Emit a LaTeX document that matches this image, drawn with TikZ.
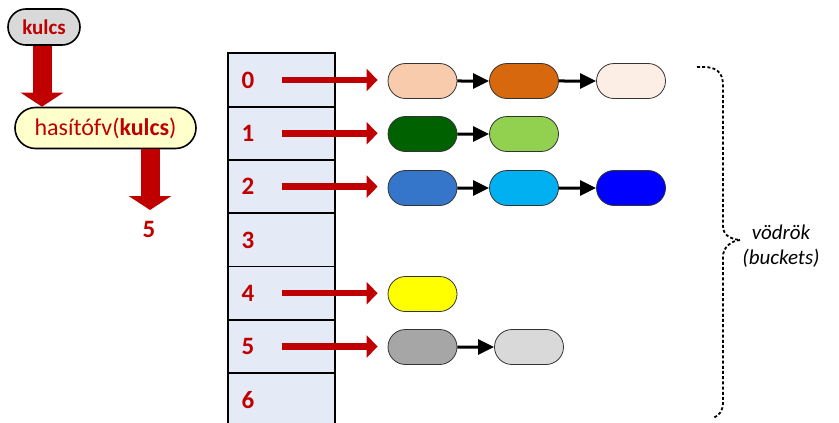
\documentclass[tikz,border=0pt]{standalone}
\usepackage{fontspec}
\setmainfont{Carlito}
\usetikzlibrary{arrows.meta,shapes.misc}
\definecolor{dred}{HTML}{C00000}
\definecolor{cellblue}{HTML}{E4EBF6}
\definecolor{pillgray}{HTML}{D9D9D9}
\definecolor{pillyellow}{HTML}{FFFFCC}
\definecolor{cA}{HTML}{F8CBAD}
\definecolor{cB}{HTML}{D8680E}
\definecolor{cC}{HTML}{FCEEE4}
\definecolor{cD}{HTML}{006100}
\definecolor{cE}{HTML}{92D050}
\definecolor{cF}{HTML}{3576CA}
\definecolor{cG}{HTML}{00B0F0}
\definecolor{cH}{HTML}{0000FF}
\definecolor{cI}{HTML}{FFFF00}
\definecolor{cJ}{HTML}{A6A6A6}
\definecolor{cK}{HTML}{D9D9D9}
\tikzset{
  cell/.style={draw=black, line width=1.8pt, fill=cellblue, minimum width=107pt, minimum height=53.3pt, inner sep=0pt},
  digit/.style={text=dred, font=\fontsize{25}{27}\selectfont\bfseries, inner sep=0pt},
  bucket/.style={rounded rectangle, draw=black!80, line width=0.8pt, minimum width=69pt, minimum height=35pt, inner sep=0pt},
  redarr/.style={draw=dred, line width=6.5pt, -{Triangle[length=11pt,width=22pt]}, shorten >=10pt},
  blkarr/.style={draw=black, line width=3pt, -{Triangle[length=16pt,width=15pt]}},
  bigarr/.style={draw=dred, line width=19pt, -{Triangle[length=14pt,width=42pt]}},
  pill/.style={rounded rectangle, draw=black, line width=1.6pt, inner sep=0pt, text=dred},
  brace/.style={draw=black, line width=1.8pt, dash pattern=on 3pt off 2.2pt},
  bucktxt/.style={font=\fontsize{21}{23}\selectfont\itshape, inner sep=0pt},
}
\begin{document}
\begin{tikzpicture}[x=1pt,y=-1pt]
\useasboundingbox (0,0) rectangle (839,423);
% left part
\node[pill, fill=pillgray, minimum width=72pt, minimum height=36pt, font=\fontsize{21}{23}\selectfont\bfseries] (key) at (44,27) {kulcs};
\node[pill, fill=pillyellow, minimum width=181pt, minimum height=41pt, font=\fontsize{24}{26}\selectfont] (hash) at (105.5,128) {hasítófv(\textbf{kulcs})};
\node[digit] (five) at (149,229) {5};
\coordinate (fivetop) at (150,210);
\draw[bigarr] (key.south -| 42,0) -- (hash.north -| 42,0);
\draw[bigarr] (hash.south -| 150,0) -- (fivetop);
% table
\foreach \i in {0,...,6} {
  \node[cell] (r\i) at (281.5,{80+53.3*\i}) {};
  \node[digit] (d\i) at (248,{80+53.3*\i}) {\i};
  \coordinate (a\i) at (282,{80+53.3*\i});
}
% buckets
\node[bucket, fill=cA] (b00) at (422.5,81) {};
\node[bucket, fill=cB] (b01) at (524,81) {};
\node[bucket, fill=cC] (b02) at (631,81) {};
\node[bucket, fill=cD] (b10) at (422.5,134) {};
\node[bucket, fill=cE] (b11) at (524,134) {};
\node[bucket, fill=cF] (b20) at (422.5,188) {};
\node[bucket, fill=cG] (b21) at (524,188) {};
\node[bucket, fill=cH] (b22) at (631,188) {};
\node[bucket, fill=cI] (b40) at (422.5,294) {};
\node[bucket, fill=cJ] (b50) at (422.5,347) {};
\node[bucket, fill=cK] (b51) at (529,347) {};
% red arrows
\draw[redarr] (a0) -- (b00.west |- a0);
\draw[redarr] (a1) -- (b10.west |- a1);
\draw[redarr] (a2) -- (b20.west |- a2);
\draw[redarr] (a4) -- (b40.west |- a4);
\draw[redarr] (a5) -- (b50.west |- a5);
% black arrows
\draw[blkarr] (b00) -- (b01);
\draw[blkarr] (b01) -- (b02);
\draw[blkarr] (b10) -- (b11);
\draw[blkarr] (b20) -- (b21);
\draw[blkarr] (b21) -- (b22);
\draw[blkarr] (b50) -- (b51);
% brace
\coordinate (bt) at (697,67);
\coordinate (tip) at (740,240);
\coordinate (bb) at (713,418);
\draw[brace] (bt) .. controls (716,66) and (723,71) .. (723,86) -- (723,226) .. controls (723,235) and (730,239) .. (tip);
\draw[brace] (tip) .. controls (731,241) and (723,247) .. (723,257) -- (723,402) .. controls (723,411) and (719,416) .. (bb);
\node[bucktxt] (vd) at (781,232) {vödrök};
\node[bucktxt] (bk) at (781,258) {(buckets)};
\end{tikzpicture}
\end{document}
